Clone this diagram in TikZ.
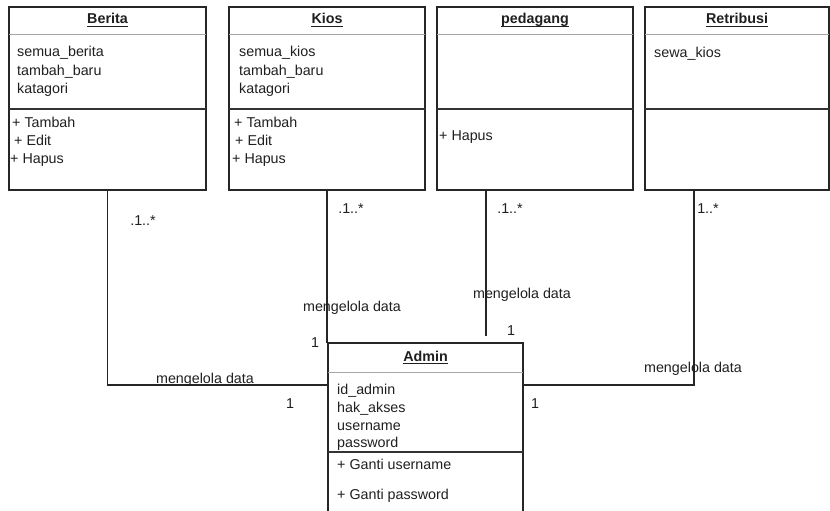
\documentclass[tikz,border=0pt]{standalone}
\usepackage{fontspec}
\setmainfont{Liberation Sans}
\usetikzlibrary{calc}
\begin{document}
\begin{tikzpicture}[x=1pt,y=-1pt,
  box/.style={draw=black!85, line width=1.2pt, inner sep=0pt, outer sep=0pt},
  sepline/.style={draw=black!80, line width=1.1pt},
  hsep/.style={draw=black!35, line width=1pt},
  ttl/.style={font=\fontsize{14.3}{18}\selectfont\bfseries, anchor=base, inner sep=0pt, text=black!88},
  txt/.style={font=\fontsize{14.3}{18}\selectfont, anchor=base west, inner sep=0pt, text=black!88},
  lbl/.style={font=\fontsize{14.3}{18}\selectfont, anchor=base, inner sep=0pt, text=black!88},
  conn/.style={draw=black!85, line width=1.2pt},
  ulin/.style={draw=black!88, line width=0.9pt}]
\useasboundingbox (0,0) rectangle (830,511);

% ---- class boxes ----
\node[box, minimum width=197pt, minimum height=183pt] (berita) at (107.5,98.5) {};
\node[box, minimum width=196pt, minimum height=183pt] (kios) at (327,98.5) {};
\node[box, minimum width=196pt, minimum height=183pt] (pedagang) at (535,98.5) {};
\node[box, minimum width=184pt, minimum height=183pt] (retribusi) at (737,98.5) {};
\node[box, minimum width=195pt, minimum height=187pt] (admin) at (425.5,436.5) {};

% ---- compartment separators ----
\foreach \b in {berita,kios,pedagang,retribusi}{
  \draw[hsep] ([yshift=-28pt]\b.north west) -- ([yshift=-28pt]\b.north east);
  \draw[sepline] ([yshift=-102pt]\b.north west) -- ([yshift=-102pt]\b.north east);
}
\draw[hsep] ([yshift=-29pt]admin.north west) -- ([yshift=-29pt]admin.north east);
\draw[sepline] ([yshift=-109pt]admin.north west) -- ([yshift=-109pt]admin.north east);

% ---- titles ----
\node[ttl] (beritaT) at (107.5,24) {Berita};
\node[ttl] (kiosT) at (327,24) {Kios};
\node[ttl] (pedagangT) at (535,24) {pedagang};
\node[ttl] (retribusiT) at (737,24) {Retribusi};
\node[ttl] (adminT) at (425.5,361) {Admin};
\foreach \t in {beritaT,kiosT,pedagangT,retribusiT,adminT}{
  \draw[ulin] ([yshift=-2.6pt]\t.base west) -- ([yshift=-2.6pt]\t.base east);
}

% ---- Berita ----
\node[txt] (ba1) at (17,57) {semua\_berita};
\node[txt] (ba2) at (17,75) {tambah\_baru};
\node[txt] (ba3) at (17,93) {katagori};
\node[txt] (bm1) at (12,127) {+ Tambah};
\node[txt] (bm2) at (14,145) {+ Edit};
\node[txt] (bm3) at (10,163) {+ Hapus};

% ---- Kios ----
\node[txt] (ka1) at (239,57) {semua\_kios};
\node[txt] (ka2) at (239,75) {tambah\_baru};
\node[txt] (ka3) at (239,93) {katagori};
\node[txt] (km1) at (234,127) {+ Tambah};
\node[txt] (km2) at (235,145) {+ Edit};
\node[txt] (km3) at (232,163) {+ Hapus};

% ---- pedagang ----
\node[txt] (pm1) at (439,140) {+ Hapus};

% ---- Retribusi ----
\node[txt] (ra1) at (654,58) {sewa\_kios};

% ---- Admin ----
\node[txt] (aa1) at (337,394) {id\_admin};
\node[txt] (aa2) at (337,412) {hak\_akses};
\node[txt] (aa3) at (337,430) {username};
\node[txt] (aa4) at (337,447) {password};
\node[txt] (am1) at (337,469) {+ Ganti username};
\node[txt] (am2) at (337,499) {+ Ganti password};

% ---- connectors ----
\draw[conn] (berita.south) |- ($(admin.north west)+(0,42)$);
\draw[conn] (kios.south) -- (kios.south |- admin.north);
\draw[conn, shorten >=7pt] ([xshift=-49pt]pedagang.south) -- ([xshift=-49pt]pedagang.south |- admin.north);
\draw[conn] ([xshift=-43pt]retribusi.south) |- ($(admin.north east)+(0,42)$);

% ---- multiplicities and roles ----
\node[lbl] (m1) at (143,225) {.1..*};
\node[lbl] (m2) at (351,213) {.1..*};
\node[lbl] (m3) at (510,213) {.1..*};
\node[lbl] (m4) at (708,213) {1..*};

\node[lbl] (r1) at (205,383) {mengelola data};
\node[lbl] (r2) at (352,311) {mengelola data};
\node[lbl] (r3) at (522,298) {mengelola data};
\node[lbl] (r4) at (693,372) {mengelola data};

\node[lbl] (o1) at (290,408) {1};
\node[lbl] (o2) at (315,347) {1};
\node[lbl] (o3) at (511,335) {1};
\node[lbl] (o4) at (535,408) {1};
\end{tikzpicture}
\end{document}
